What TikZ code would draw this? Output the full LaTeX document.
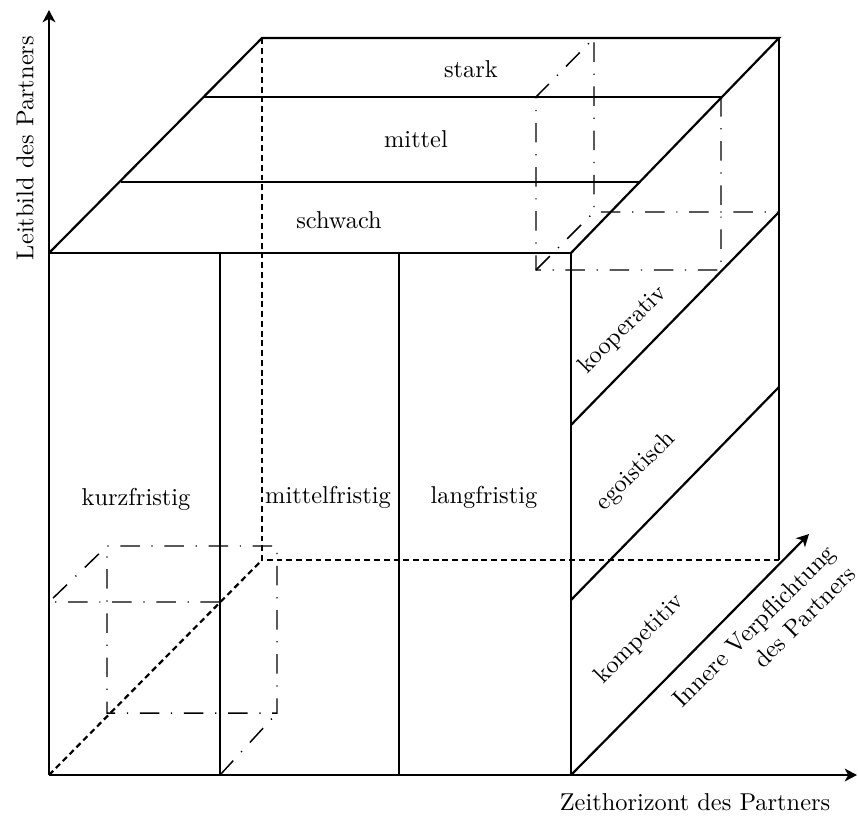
\documentclass[tikz,border=0pt]{standalone}
\usetikzlibrary{arrows.meta,calc}
\begin{document}
\begin{tikzpicture}[x=0.41pt,y=-0.41pt,
  edge/.style={line width=0.9pt},
  thinedge/.style={line width=0.6pt},
  hidden/.style={line width=0.9pt, dash pattern=on 2.4pt off 1.6pt},
  sub/.style={line width=0.6pt, dash pattern=on 8pt off 4.8pt on 0.5pt off 4.8pt},
  axis/.style={line width=0.9pt,-{Stealth[length=5pt,width=5.2pt,inset=1.4pt]}},
  lbl/.style={inner sep=0pt}]
\useasboundingbox (0,0) rectangle (858,821);

% corners of the cube
\coordinate (O) at (49,775);   % front bottom left
\coordinate (A) at (571,775);  % front bottom right
\coordinate (B) at (571,253);  % front top right
\coordinate (C) at (49,253);   % front top left
\coordinate (D) at (262,38);   % back top left
\coordinate (E) at (779,38);   % back top right
\coordinate (F) at (779,560);  % back bottom right
\coordinate (G) at (262,560);  % back bottom left (hidden)

% axis tips
\coordinate (ytip) at (49,10);
\coordinate (xtip) at (857,775);
\coordinate (ztip) at (809,534);

% division points
\coordinate (f1t) at (220,253); \coordinate (f1b) at (220,775);
\coordinate (f2t) at (399,253); \coordinate (f2b) at (399,775);
\coordinate (t1l) at (121,182); \coordinate (t1r) at (639,182);
\coordinate (t2l) at (204,97);  \coordinate (t2r) at (722,97);
\coordinate (r1f) at (571,425); \coordinate (r1b) at (779,212);
\coordinate (r2f) at (571,600); \coordinate (r2b) at (779,387);

% hidden edges
\draw[hidden] (D) -- (G) -- (F);
\draw[hidden] (O) -- (G);

% visible edges
\draw[edge] (C) -- (B) -- (A);
\draw[edge] (C) -- (D) -- (E) -- (B);
\draw[edge] (E) -- (F);
\draw[thinedge] (f1t) -- (f1b);
\draw[edge] (f2t) -- (f2b);
\draw[edge] (t1l) -- (t1r);
\draw[edge] (t2l) -- (t2r);
\draw[edge] (r1f) -- (r1b);
\draw[edge] (r2f) -- (r2b);

% sub-cube in the upper corner
\coordinate (P1) at (536,97);  \coordinate (P2) at (721,97);
\coordinate (P3) at (721,270); \coordinate (P4) at (536,270);
\coordinate (Q1) at (594,38);  \coordinate (Q3) at (779,212);
\coordinate (Q4) at (594,212);
\draw[sub] (P2) -- (P3) -- (P4) -- (P1) -- (Q1) -- (Q4) -- (Q3);
\draw[sub] (P4) -- (Q4);

% sub-cube in the lower corner
\coordinate (R1) at (49,602);  \coordinate (R2) at (220,602);
\coordinate (R3) at (220,775);
\coordinate (S1) at (107,546); \coordinate (S2) at (277,546);
\coordinate (S3) at (277,713); \coordinate (S4) at (107,713);
\draw[sub] (R2) -- (R1) -- (S1) -- (S2) -- (S3) -- (S4) -- (S1);
\draw[sub] (R3) -- (S3);

% axes
\draw[axis] (O) -- (ytip);
\draw[axis] (O) -- (xtip);
\draw[axis] (A) -- (ztip);

% labels
\node[lbl] (stark) at (471,69) {stark};
\node[lbl] (mittel) at (416,139) {mittel};
\node[lbl] (schwach) at (339,220) {schwach};
\node[lbl] (kurz) at (136,499) {kurzfristig};
\node[lbl] (mittelfr) at (328,497) {mittelfristig};
\node[lbl] (lang) at (484,497) {langfristig};
\node[lbl,rotate=45] (koop) at (623,330) {kooperativ};
\node[lbl,rotate=45] (ego) at (636,471) {egoistisch};
\node[lbl,rotate=45] (komp) at (640,639) {kompetitiv};
\node[lbl,rotate=45,align=right] (innere) at (764,636) {Innere Verpflichtung\\des Partners};
\node[lbl,rotate=90] (leitbild) at (25,148) {Leitbild des Partners};
\node[lbl] (zeit) at (695,802) {Zeithorizont des Partners};
\end{tikzpicture}
\end{document}
